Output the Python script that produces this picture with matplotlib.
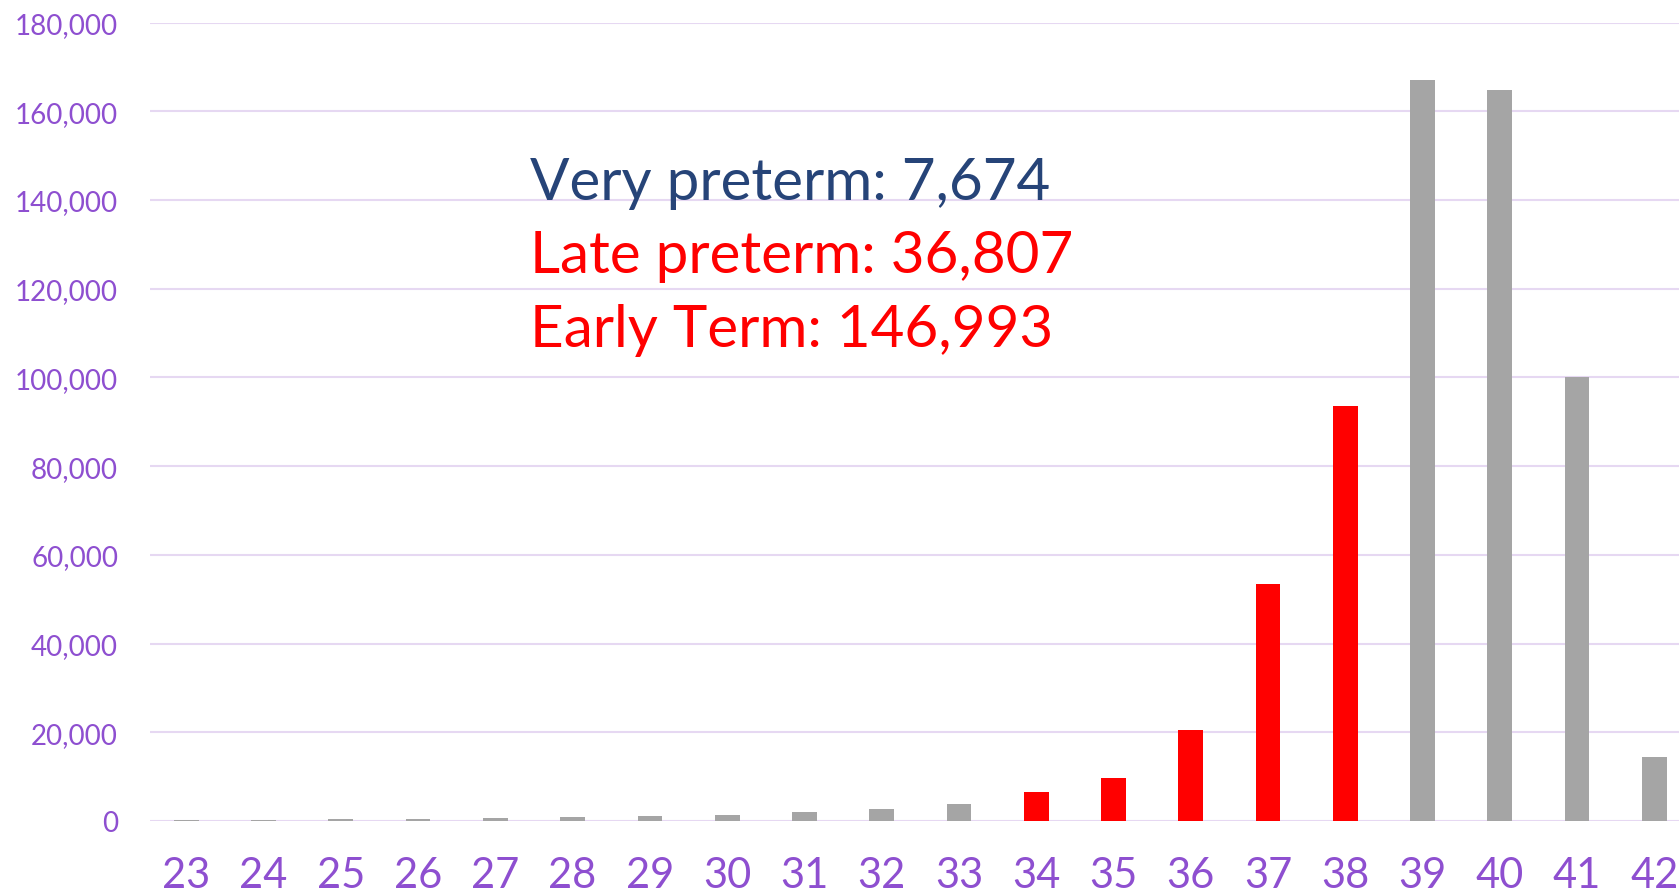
import numpy as np
import matplotlib
matplotlib.use("Agg")
import matplotlib.pyplot as plt

# --- Data ---
weeks = [23, 24, 25, 26, 27, 28, 29, 30, 31, 32, 33, 34, 35, 36, 37, 38, 39, 40, 41, 42]
births = [200, 320, 400, 550, 700, 950, 1150, 1450, 1950, 2600, 3800,
          6600, 9700, 20500, 53500, 93500, 167000, 164800, 100100, 14400]
highlight_weeks = [34, 35, 36, 37, 38]
y_ticks = [0, 20000, 40000, 60000, 80000, 100000, 120000, 140000, 160000, 180000]
notes = ["Very preterm: 7,674", "Late preterm: 36,807", "Early Term: 146,993"]

GREY = '#A5A5A5'
RED = '#FF0000'
NAVY = '#264478'
PURPLE = '#8E4FD0'
GRID = '#E6D8F2'

plt.rcParams['font.family'] = ['Lato', 'DejaVu Sans']

fig = plt.figure(figsize=(16.79, 8.95), dpi=100)
ax = fig.add_axes([150 / 1679, 73 / 895, 1 - 150 / 1679, (822 - 23.5) / 895])

colors = [RED if w in highlight_weeks else GREY for w in weeks]
ax.bar(weeks, births, width=0.32, color=colors, zorder=3)

ax.set_xlim(22.53, 42.32)
ax.set_ylim(0, 180000)
ax.set_yticks(y_ticks)
ax.set_yticklabels([f'{v:,}' for v in y_ticks])
ax.set_xticks(weeks)
ax.set_xticklabels([str(w) for w in weeks])

ax.grid(axis='y', color=GRID, linewidth=1.5, zorder=0)
ax.set_axisbelow(True)
for s in ax.spines.values():
    s.set_visible(False)
ax.tick_params(axis='both', length=0)
ax.tick_params(axis='y', labelsize=20, labelcolor=PURPLE, pad=23)
ax.tick_params(axis='x', labelsize=30, labelcolor=PURPLE, pad=25)

# summary text block
note_colors = [NAVY, RED, RED]
note_y = [140200, 123750, 107000]
for txt, c, yy in zip(notes, note_colors, note_y):
    ax.text(27.45, yy, txt, color=c, fontsize=42, va='baseline', ha='left', zorder=4)

fig.savefig('out.png', dpi=100)
